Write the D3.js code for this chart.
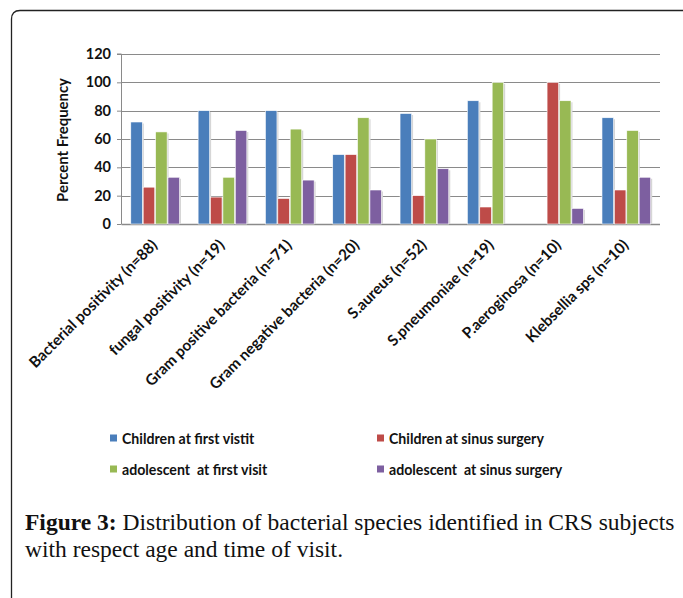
<!DOCTYPE html>
<html>
<head>
<meta charset="utf-8">
<script src="https://cdn.jsdelivr.net/npm/d3@7"></script>
<style>
  body { margin: 0; background: #fff; }
  svg { display: block; }
</style>
</head>
<body>
<svg width="683" height="598"></svg>
<script>
// chart data
const categories = [
  "Bacterial positivity (n=88)",
  "fungal positivity (n=19)",
  "Gram positive bacteria (n=71)",
  "Gram negative bacteria (n=20)",
  "S.aureus (n=52)",
  "S.pneumoniae (n=19)",
  "P.aeroginosa (n=10)",
  "Klebsellia sps (n=10)"
];
const seriesNames = [
  "Children at first vistit",
  "Children at sinus surgery",
  "adolescent  at first visit",
  "adolescent  at sinus surgery"
];
const childFirst   = [72, 80, 80, 49, 78, 87, 0, 75];
const childSurgery = [26, 19, 18, 49, 20, 12, 100, 24];
const adolFirst    = [65, 33, 67, 75, 60, 100, 87, 66];
const adolSurgery  = [33, 66, 31, 24, 39, 0, 11, 33];
const yTicks = [0, 20, 40, 60, 80, 100, 120];

const colors = ["#4a7ebb", "#be4b48", "#98b954", "#7d5fa0"];
const seriesValues = [childFirst, childSurgery, adolFirst, adolSurgery];

const svg = d3.select("svg");
const font = "Lato, 'Open Sans', sans-serif";

// shrink/grow a text so that it spans the width seen in the picture
function fitSize(sel, base, target) {
  const w = sel.node().getComputedTextLength();
  return base * target / w;
}

// frame with rounded top-left corner
svg.append("path")
  .attr("d", "M11.5,598 L11.5,19 Q11.5,10.5 20,10.5 L683,10.5")
  .attr("fill", "none")
  .attr("stroke", "#222")
  .attr("stroke-width", 1.3);

const pLeft = 121.5, pRight = 660, pTop = 54, pBottom = 224;

const x = d3.scaleBand()
  .domain(categories)
  .range([pLeft, pRight]);

const xs = d3.scaleBand()
  .domain(d3.range(4))
  .range([0, x.bandwidth()])
  .paddingOuter(0.75)
  .paddingInner(0.07);

const y = d3.scaleLinear()
  .domain([0, 120])
  .range([pBottom, pTop]);

// gridlines
svg.append("g")
  .selectAll("line")
  .data(yTicks)
  .join("line")
  .attr("x1", pLeft)
  .attr("x2", pRight)
  .attr("y1", d => Math.round(y(d)) + 0.5)
  .attr("y2", d => Math.round(y(d)) + 0.5)
  .attr("stroke", "#8a8a8a")
  .attr("stroke-width", d => d === 0 ? 1.5 : 1);

// y axis
const yAxis = svg.append("g")
  .attr("transform", `translate(${pLeft},0)`)
  .call(d3.axisLeft(y).tickValues(yTicks).tickSize(4.5).tickPadding(6));
yAxis.select(".domain").attr("stroke", "#8a8a8a").attr("d", `M-4.5,${pTop}H0V${pBottom}`);
yAxis.selectAll(".tick line").attr("stroke", "#8a8a8a");
yAxis.selectAll("text")
  .attr("font-family", font)
  .attr("font-weight", "bold")
  .attr("font-size", 14.5)
  .attr("fill", "#111");

// y axis title
const yTitle = svg.append("text")
  .attr("transform", `translate(68,${(pTop + pBottom) / 2 + 1}) rotate(-90)`)
  .attr("text-anchor", "middle")
  .attr("font-family", font)
  .attr("font-weight", "bold")
  .attr("font-size", 12)
  .attr("fill", "#111")
  .text("Percent Frequency");
yTitle.attr("font-size", fitSize(yTitle, 12, 124));

// bars
const groups = svg.append("g")
  .selectAll("g")
  .data(categories)
  .join("g")
  .attr("transform", d => `translate(${x(d)},0)`);

const cells = (d, i) => seriesValues.map((s, k) => ({ k, v: s[i] })).filter(e => e.v > 0);

groups.selectAll("rect.shadow")
  .data(cells)
  .join("rect")
  .attr("class", "shadow")
  .attr("x", e => xs(e.k) + 1.5)
  .attr("y", e => y(e.v) + 1.5)
  .attr("width", xs.bandwidth())
  .attr("height", e => pBottom - y(e.v) - 1.5)
  .attr("fill", "#d6d6d6");

groups.selectAll("rect.bar")
  .data(cells)
  .join("rect")
  .attr("class", "bar")
  .attr("x", e => xs(e.k))
  .attr("y", e => y(e.v))
  .attr("width", xs.bandwidth())
  .attr("height", e => pBottom - y(e.v))
  .attr("fill", e => colors[e.k])
  .attr("stroke", "#fff")
  .attr("stroke-width", 0.6);

// x labels, rotated
const xLabels = svg.append("g")
  .selectAll("text")
  .data(categories)
  .join("text")
  .attr("transform", d => `translate(${x(d) + x.bandwidth() / 2 + 3},${pBottom + 22}) rotate(-45)`)
  .attr("text-anchor", "end")
  .attr("font-family", font)
  .attr("font-weight", "bold")
  .attr("font-size", 12)
  .attr("fill", "#111")
  .text(d => d);
xLabels.attr("font-size", fitSize(xLabels.filter((d, i) => i === 2), 12, 200));

// legend
const legendPos = [[110, 439], [377, 439], [110, 470], [377, 470]];
const legend = svg.append("g")
  .selectAll("g")
  .data(seriesNames)
  .join("g")
  .attr("transform", (d, i) => `translate(${legendPos[i][0]},${legendPos[i][1]})`);
legend.append("rect")
  .attr("x", 0)
  .attr("y", -4.5)
  .attr("width", 7)
  .attr("height", 7)
  .attr("fill", (d, i) => colors[i]);
const legendText = legend.append("text")
  .attr("x", 12)
  .attr("y", 4.5)
  .attr("font-family", font)
  .attr("font-weight", "bold")
  .attr("font-size", 12)
  .attr("fill", "#111")
  .style("white-space", "pre")
  .text(d => d);
legendText.attr("font-size", fitSize(legendText.filter((d, i) => i === 1), 12, 155));

// caption
const cap1 = svg.append("text")
  .attr("x", 25)
  .attr("y", 530)
  .attr("font-family", "'Liberation Serif', serif")
  .attr("font-size", 20)
  .attr("fill", "#111");
cap1.append("tspan").attr("font-weight", "bold").text("Figure 3:");
cap1.append("tspan").text(" Distribution of bacterial species identified in CRS subjects");
const capSize = fitSize(cap1, 20, 650);
cap1.attr("font-size", capSize);

svg.append("text")
  .attr("x", 25)
  .attr("y", 557)
  .attr("font-family", "'Liberation Serif', serif")
  .attr("font-size", capSize)
  .attr("fill", "#111")
  .text("with respect age and time of visit.");
</script>
</body>
</html>
